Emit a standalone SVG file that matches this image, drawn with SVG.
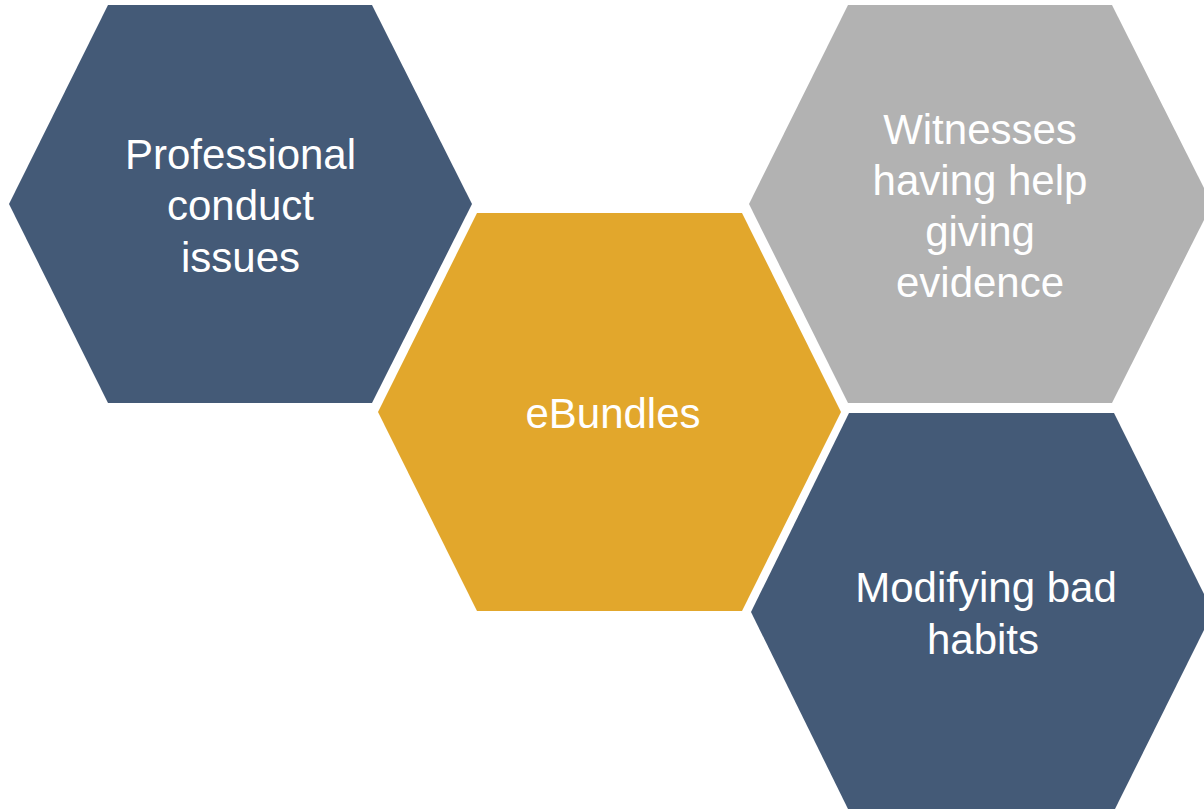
<svg xmlns="http://www.w3.org/2000/svg" width="1204" height="809" viewBox="0 0 1204 809">
<style>
.lbl{font-family:"Liberation Sans",Arial,sans-serif;font-size:42px;fill:#ffffff;text-anchor:middle}
.blue{fill:#445A77}
.gold{fill:#E2A72C}
.grey{fill:#B2B2B2}
</style>
<rect width="1204" height="809" fill="#ffffff"/>
<g id="node-professional">
<polygon class="blue" points="108,5 372,5 472,204 372,403 108,403 9,204"/>
<text class="lbl" x="240.5" y="169">Professional</text>
<text class="lbl" x="240.5" y="220">conduct</text>
<text class="lbl" x="240.5" y="272">issues</text>
</g>
<g id="node-ebundles">
<polygon class="gold" points="477,213 742,213 841,412 742,611 477,611 378,412"/>
<text class="lbl" x="613" y="428">eBundles</text>
</g>
<g id="node-witnesses">
<polygon class="grey" points="848,5 1112,5 1212,204 1112,403 848,403 749,204"/>
<text class="lbl" x="980" y="144">Witnesses</text>
<text class="lbl" x="980" y="195">having help</text>
<text class="lbl" x="980" y="246">giving</text>
<text class="lbl" x="980" y="297">evidence</text>
</g>
<g id="node-modifying">
<polygon class="blue" points="849,413 1114,413 1213,612 1114,811 849,811 751,612"/>
<text class="lbl" x="986" y="602">Modifying bad</text>
<text class="lbl" x="983" y="654">habits</text>
</g>
<g id="connectors"></g>
</svg>
